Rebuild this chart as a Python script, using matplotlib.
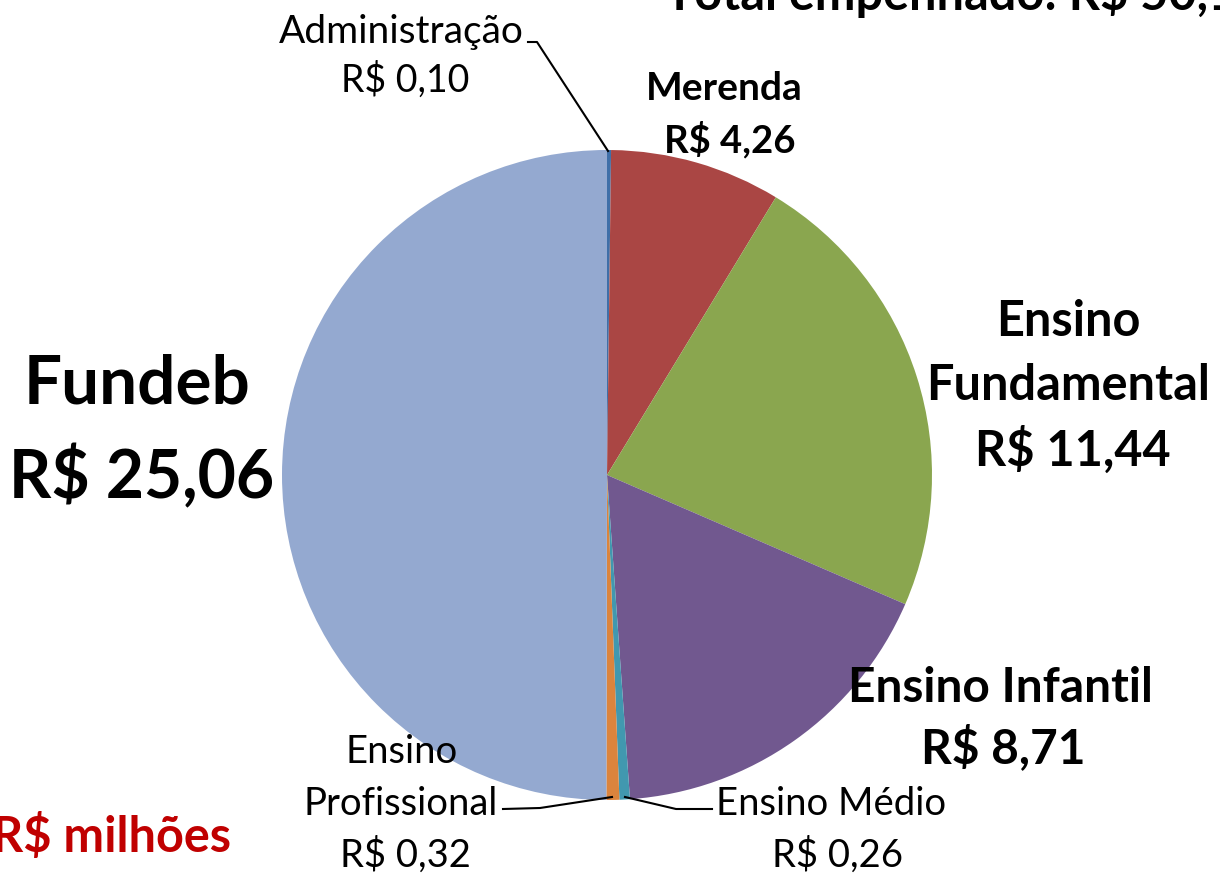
import matplotlib
matplotlib.use("Agg")
import matplotlib.pyplot as plt

categories = ["Administração", "Merenda", "Ensino Fundamental", "Ensino Infantil",
              "Ensino Médio", "Ensino Profissional", "Fundeb"]
values = [0.10, 4.26, 11.44, 8.71, 0.26, 0.32, 25.06]
value_labels = ["R$ 0,10", "R$ 4,26", "R$ 11,44", "R$ 8,71", "R$ 0,26", "R$ 0,32", "R$ 25,06"]
colors = ["#3F6FA8", "#AA4644", "#8AA64F", "#71588F", "#4198AF", "#DB843D", "#94A9D0"]
title_text = "Total empenhado: R$ 50,15"
unit_text = "R$ milhões"

W, H = 1220, 873
plt.rcParams['font.family'] = ['Lato', 'DejaVu Sans']
fig = plt.figure(figsize=(W / 100, H / 100), dpi=100)
ax = fig.add_axes([0, 0, 1, 1])

def Y(py):
    return H - py

ax.pie(values, colors=colors, startangle=90, counterclock=False,
       center=(607, Y(475)), radius=325, frame=True,
       wedgeprops=dict(linewidth=0))
ax.set_xlim(0, W)
ax.set_ylim(0, H)
ax.set_aspect('equal')
ax.axis('off')

def txt(x, py, s, size, bold=False, color='black', ha='center', va='center'):
    ax.text(x, Y(py), s, fontsize=size, fontweight='bold' if bold else 'normal',
            color=color, ha=ha, va=va)

# Title (clipped at top, as in the original)
txt(665, 10, title_text, 35, bold=True, ha='left', va='baseline')

# Administração
txt(401, 32, categories[0], 28)
txt(405, 80, value_labels[0], 27)
ax.plot([528, 537, 608], [Y(42), Y(42), Y(151)], color='black', lw=1.5)

# Merenda
txt(724, 89, categories[1], 28, bold=True)
txt(730, 140, value_labels[1], 27.5, bold=True)

# Ensino Fundamental
txt(1068, 322, "Ensino", 35, bold=True)
txt(1068, 386, "Fundamental", 35, bold=True)
txt(1073, 450, value_labels[2], 35, bold=True)

# Ensino Infantil
txt(1000, 688, categories[3], 34.5, bold=True)
txt(1003, 748, value_labels[3], 34.5, bold=True)

# Fundeb
txt(137, 385, categories[6], 48.5, bold=True)
txt(142, 478, value_labels[6], 47.5, bold=True)

# Ensino Profissional
txt(402, 752, "Ensino", 27.5)
txt(401, 804, "Profissional", 27.5)
txt(405, 855, value_labels[5], 27.5)
ax.plot([503, 540, 612], [Y(809), Y(808), Y(797)], color='black', lw=1.5)

# Ensino Médio
txt(716, 804, categories[4], 27.5, ha='left')
txt(838, 855, value_labels[4], 27.5)
ax.plot([625, 676, 712], [Y(797), Y(809), Y(809)], color='black', lw=1.5)

# Unit
txt(231, 852, unit_text, 35, bold=True, color='#C00000', ha='right', va='baseline')

fig.savefig("out.png", dpi=100)
